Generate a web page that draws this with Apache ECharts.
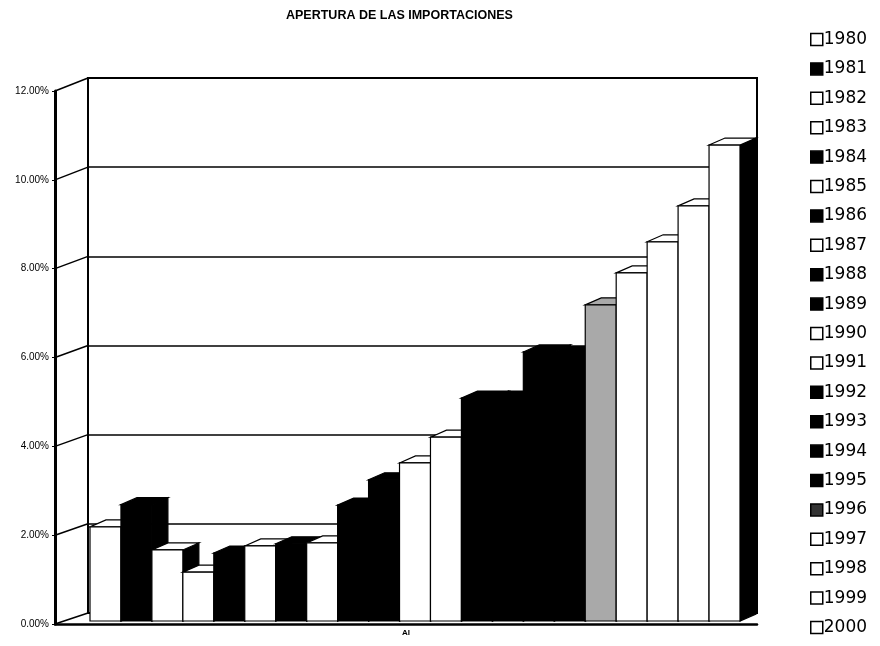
<!DOCTYPE html>
<html>
<head>
<meta charset="utf-8">
<script src="https://cdn.jsdelivr.net/npm/echarts@6/dist/echarts.min.js"></script>
<style>html,body{margin:0;padding:0;background:#fff;}#c{width:880px;height:646px;}</style>
</head>
<body>
<div id="c"></div>
<script>
const titleText = 'APERTURA DE LAS IMPORTACIONES';
const category = ['AI'];
const years = ['1980','1981','1982','1983','1984','1985','1986','1987','1988','1989','1990',
               '1991','1992','1993','1994','1995','1996','1997','1998','1999','2000'];
const values = [2.12, 2.62, 1.60, 1.10, 1.53, 1.69, 1.74, 1.76, 2.61, 3.18, 3.56,
                4.14, 5.02, 5.02, 6.06, 6.02, 7.12, 7.84, 8.54, 9.35, 10.72];
const fillKinds = ['w','b','w','w','b','w','b','w','b','b','w',
                   'w','b','b','b','b','g','w','w','w','w'];
const yMin = 0, yMax = 12, yStep = 2;

const fillColor = {w: '#ffffff', b: '#000000', g: '#a9a9a9'};
const legendColor = {w: '#ffffff', b: '#000000', g: '#333333'};
const DX = 16, DY = 7;

function renderBar(params, api) {
  const idx = api.value(0);
  const v = api.value(1);
  const top = api.coord([idx, v]);
  const base = api.coord([idx, 0]);
  const w = api.size([1, 0])[0];
  const x0 = top[0] - w / 2, x1 = top[0] + w / 2, yt = top[1], y0 = base[1];
  const fill = api.style().fill;
  const st = {stroke: '#000', lineWidth: 1.2};
  return {
    type: 'group',
    children: [
      {type: 'polygon', shape: {points: [[x1, yt], [x1 + DX, yt - DY], [x1 + DX, y0 - DY], [x1, y0]]},
       style: Object.assign({fill: '#000'}, st)},
      {type: 'polygon', shape: {points: [[x0, yt], [x0 + DX, yt - DY], [x1 + DX, yt - DY], [x1, yt]]},
       style: Object.assign({fill: fill}, st)},
      {type: 'rect', shape: {x: x0, y: yt, width: w, height: y0 - yt},
       style: Object.assign({fill: fill}, st)}
    ]
  };
}

const series = years.map((y, i) => ({
  name: y,
  type: 'custom',
  xAxisIndex: 2,
  yAxisIndex: 2,
  renderItem: renderBar,
  itemStyle: {color: fillColor[fillKinds[i]], borderColor: '#000', borderWidth: 1},
  data: [[i, values[i]]],
  silent: true
}));

const chart = echarts.init(document.getElementById('c'), null, {renderer: 'canvas'});
chart.setOption({
  animation: false,
  backgroundColor: '#fff',
  title: {
    text: titleText, left: 286, top: 9, padding: 0,
    textStyle: {fontFamily: 'Liberation Sans', fontSize: 12.5, fontWeight: 'bold', color: '#000'}
  },
  legend: {
    orient: 'vertical', left: 810, top: 31, padding: 0,
    itemWidth: 12, itemHeight: 12, itemGap: 12.4,
    icon: 'rect',
    data: years.map((y, i) => ({name: y, itemStyle: {color: legendColor[fillKinds[i]], borderColor: '#000', borderWidth: 1.5}})),
    textStyle: {fontFamily: 'DejaVu Sans', fontSize: 17, lineHeight: 17, color: '#000', padding: [0, 0, 0, -4]}
  },
  grid: [
    {left: 88, right: 123, top: 78, bottom: 33, show: true, borderColor: '#000', borderWidth: 2, backgroundColor: 'transparent'},
    {left: 55, right: 123, top: 91, bottom: 22},
    {left: 90, right: 140, top: 621 - 12 * 44.4, bottom: 25}
  ],
  xAxis: [
    {gridIndex: 0, type: 'category', data: category, show: false},
    {gridIndex: 1, type: 'category', data: category,
     axisLine: {lineStyle: {color: '#000', width: 2.5}}, axisTick: {show: false},
     axisLabel: {color: '#000', fontSize: 8, fontWeight: 'bold', fontFamily: 'Liberation Sans', margin: 5}},
    {gridIndex: 2, type: 'category', data: years, show: false}
  ],
  yAxis: [
    {gridIndex: 0, type: 'value', min: yMin, max: yMax, interval: yStep,
     axisLine: {show: false}, axisTick: {show: false}, axisLabel: {show: false},
     splitLine: {lineStyle: {color: '#000', width: 1.5}}},
    {gridIndex: 1, type: 'value', min: yMin, max: yMax, interval: yStep,
     axisLine: {show: true, lineStyle: {color: '#000', width: 3}},
     axisTick: {show: true, length: 3, lineStyle: {color: '#000', width: 1}},
     axisLabel: {color: '#000', fontSize: 10, fontFamily: 'Liberation Sans', margin: 6,
                 formatter: v => v.toFixed(2) + '%'},
     splitLine: {show: false}},
    {gridIndex: 2, type: 'value', min: yMin, max: yMax, show: false, splitLine: {show: false}}
  ],
  series: series
});

// perspective connectors between the front axis and the back wall
const links = [];
for (let v = yMin; v <= yMax; v += yStep) {
  const yf = chart.convertToPixel({yAxisIndex: 1}, v);
  const yb = chart.convertToPixel({yAxisIndex: 0}, v);
  links.push({type: 'line', shape: {x1: 55, y1: yf, x2: 88, y2: yb},
              style: {stroke: '#000', lineWidth: 1.5}, silent: true, z: 1});
}
chart.setOption({graphic: links});
</script>
</body>
</html>
